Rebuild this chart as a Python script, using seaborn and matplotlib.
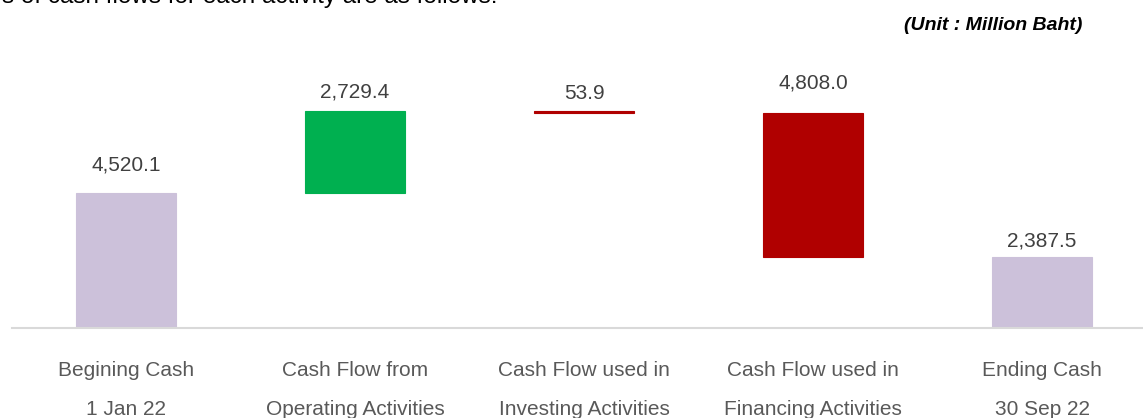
import matplotlib
matplotlib.use('Agg')
import pandas as pd
import matplotlib.pyplot as plt
import seaborn as sns

# Datos del flujo de caja (millones de baht)
categorias = ['Begining Cash\n1 Jan 22', 'Cash Flow from\nOperating Activities',
              'Cash Flow used in\nInvesting Activities', 'Cash Flow used in\nFinancing Activities',
              'Ending Cash\n30 Sep 22']
cambios = [4520.1, 2729.4, -53.9, -4808.0, 2387.5]
etiquetas = ['4,520.1', '2,729.4', '53.9', '4,808.0', '2,387.5']
es_total = [True, False, False, False, True]

# Calcular base y altura de cada barra (cascada)
bases, alturas = [], []
acumulado = 0
for v, tot in zip(cambios, es_total):
    if tot:
        bases.append(0)
        alturas.append(v)
        acumulado = v
    else:
        nuevo = acumulado + v
        bases.append(min(acumulado, nuevo))
        alturas.append(abs(v))
        acumulado = nuevo

colores = ['#CCC1DA', '#00B050', '#B00000', '#B00000', '#CCC1DA']
df = pd.DataFrame({'categoria': categorias, 'altura': alturas, 'base': bases})

sns.set_style('white')
plt.rcParams['font.family'] = ['Liberation Sans', 'DejaVu Sans']

fig = plt.figure(figsize=(11.43, 4.18), dpi=100)
ax = fig.add_axes([12 / 1143, 90 / 418, 1 - 12 / 1143, 288 / 418])

sns.barplot(data=df, x='categoria', y='altura', hue='categoria', palette=colores,
            legend=False, width=0.437, saturation=1, ax=ax)

# Mover cada barra a su base
for p, b, c in zip(ax.patches, bases, colores):
    p.set_y(b)
    p.set_edgecolor(c)
    p.set_linewidth(0.8)

# Valores encima de las barras
separacion = [13, 7, 6, 14.5, 4.5]
for i, (b, h, txt) in enumerate(zip(bases, alturas, etiquetas)):
    ax.annotate(txt, (i, b + h), xytext=(0, separacion[i]), textcoords='offset points',
                ha='center', va='bottom', fontsize=15, color='#404040')

ax.set_xlim(-0.498, 4.441)
ax.set_ylim(0, 9642)
ax.set_xlabel('')
ax.set_ylabel('')
ax.set_yticks([])
ax.tick_params(axis='x', length=0, pad=24, labelsize=15, labelcolor='#595959')
for lbl in ax.get_xticklabels():
    lbl.set_linespacing(2.3)
for s in ['top', 'right', 'left']:
    ax.spines[s].set_visible(False)
ax.spines['bottom'].set_color('#D9D9D9')
ax.spines['bottom'].set_linewidth(1.5)

fig.text(1082 / 1143, 1 - 25 / 418, '(Unit : Million Baht)', ha='right', va='center',
         fontsize=14, fontweight='bold', fontstyle='italic', color='black')
fig.text(497 / 1143, 1 - 3 / 418, 's of cash flows for each activity are as follows:',
         ha='right', va='baseline', fontsize=17.5, color='black')

fig.savefig('out.png', dpi=100)
